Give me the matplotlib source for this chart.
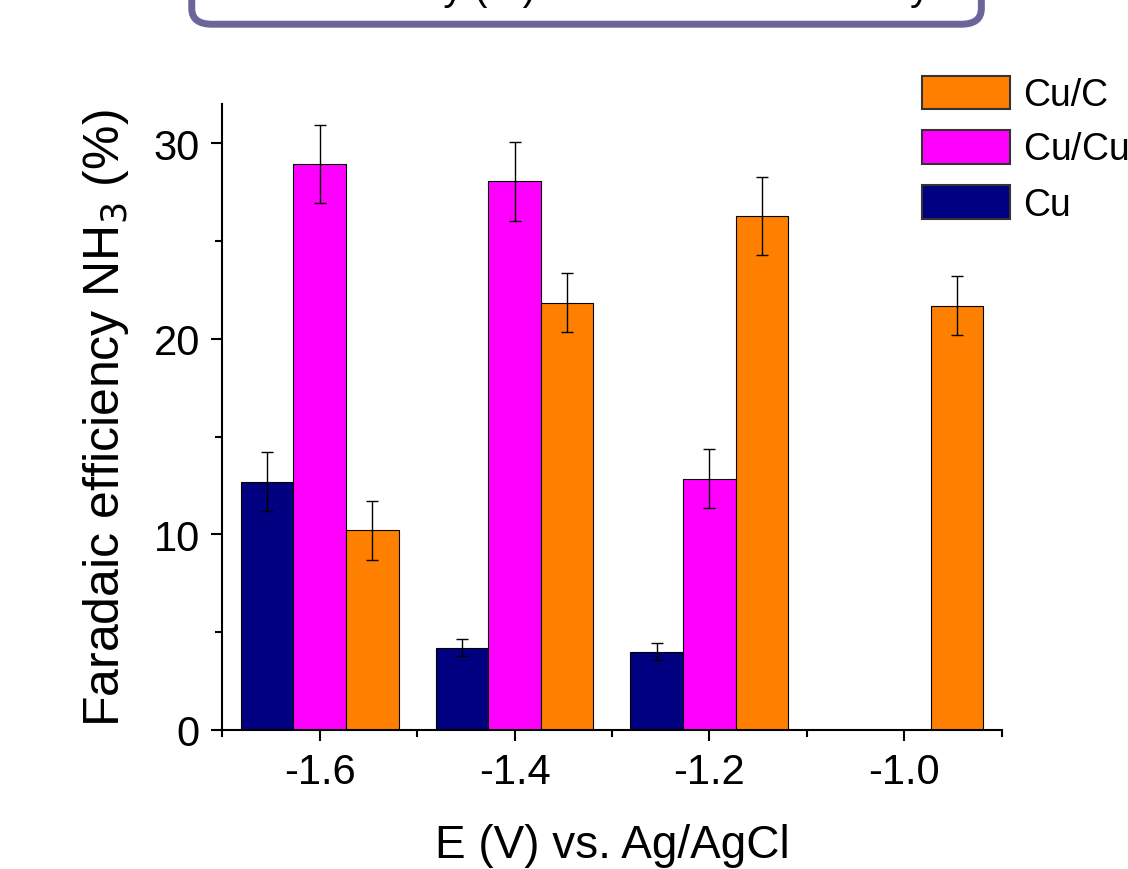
import numpy as np
import matplotlib.pyplot as plt
from matplotlib.patches import FancyBboxPatch
from matplotlib.ticker import MultipleLocator

plt.rcParams['font.family'] = ['Liberation Sans', 'DejaVu Sans']

# potentials (V vs. Ag/AgCl)
potentials = [-1.6, -1.4, -1.2, -1.0]

# faradaic efficiency NH3 (%) and error bars, one list per catalyst
cu_fe      = [12.7, 4.2, 4.0, 0.0]
cu_err     = [1.5, 0.45, 0.45, 0.0]
cucu_fe    = [28.95, 28.05, 12.85, 0.0]
cucu_err   = [2.0, 2.0, 1.5, 0.0]
cuc_fe     = [10.2, 21.85, 26.3, 21.7]
cuc_err    = [1.5, 1.5, 2.0, 1.5]

labels = ['Cu/C', 'Cu/Cu$_2$O', 'Cu']
colors = ['#FF8000', '#FF00FF', '#000080']

fig = plt.figure(figsize=(11.28, 8.7), dpi=100)
ax = fig.add_axes([0.197, 0.160, 0.691, 0.719])

x = np.array(potentials)
w = 0.054
ekw = dict(ecolor='black', elinewidth=1.0, capsize=4.5, capthick=1.0)

# Cu and Cu/Cu2O have no bar at -1.0
b_cu = ax.bar(x[:3] - w, cu_fe[:3], w, yerr=cu_err[:3], color=colors[2],
              edgecolor='black', linewidth=0.8, error_kw=ekw)
b_cucu = ax.bar(x[:3], cucu_fe[:3], w, yerr=cucu_err[:3], color=colors[1],
                edgecolor='black', linewidth=0.8, error_kw=ekw)
b_cuc = ax.bar(x + w, cuc_fe, w, yerr=cuc_err, color=colors[0],
               edgecolor='black', linewidth=0.8, error_kw=ekw)

ax.set_xlim(-1.7, -0.9)
ax.set_ylim(0, 32)
ax.set_xticks(potentials)
ax.set_xticklabels(['-1.6', '-1.4', '-1.2', '-1.0'])
ax.xaxis.set_minor_locator(MultipleLocator(0.1))
ax.set_yticks([0, 10, 20, 30])
ax.yaxis.set_minor_locator(MultipleLocator(5))

for s in ['top', 'right']:
    ax.spines[s].set_visible(False)
for s in ['left', 'bottom']:
    ax.spines[s].set_linewidth(1.5)

ax.tick_params(which='major', direction='out', length=8, width=1.5,
               labelsize=30, pad=8)
ax.tick_params(which='minor', direction='out', length=5, width=1.5)

ax.set_xlabel('E (V) vs. Ag/AgCl', fontsize=33, labelpad=22)
ax.set_ylabel('Faradaic efficiency NH$_3$ (%)', fontsize=36, labelpad=16)

leg = ax.legend([b_cuc, b_cucu, b_cu], labels, loc='upper left',
                bbox_to_anchor=(0.807, 0.925), bbox_transform=fig.transFigure,
                frameon=False, fontsize=27, handlelength=2.35, handleheight=1.0,
                handletextpad=0.35, labelspacing=0.45, borderaxespad=0.0,
                borderpad=0.3)
for h in leg.legend_handles:
    h.set_edgecolor('#333333')
    h.set_linewidth(1.5)

# title box cut off at the top of the picture
box = FancyBboxPatch((0.170, 0.971), 0.700, 0.2,
                     boxstyle='round,pad=0,rounding_size=0.018',
                     transform=fig.transFigure, facecolor='white',
                     edgecolor='#6B6699', linewidth=5, clip_on=False)
fig.patches.append(box)
fig.text(0.472, 0.9995, 'Faradaic efficiency (%) for ammonia recovery',
         ha='center', va='baseline', fontsize=28.5)

fig.savefig('out.png', dpi=100)
